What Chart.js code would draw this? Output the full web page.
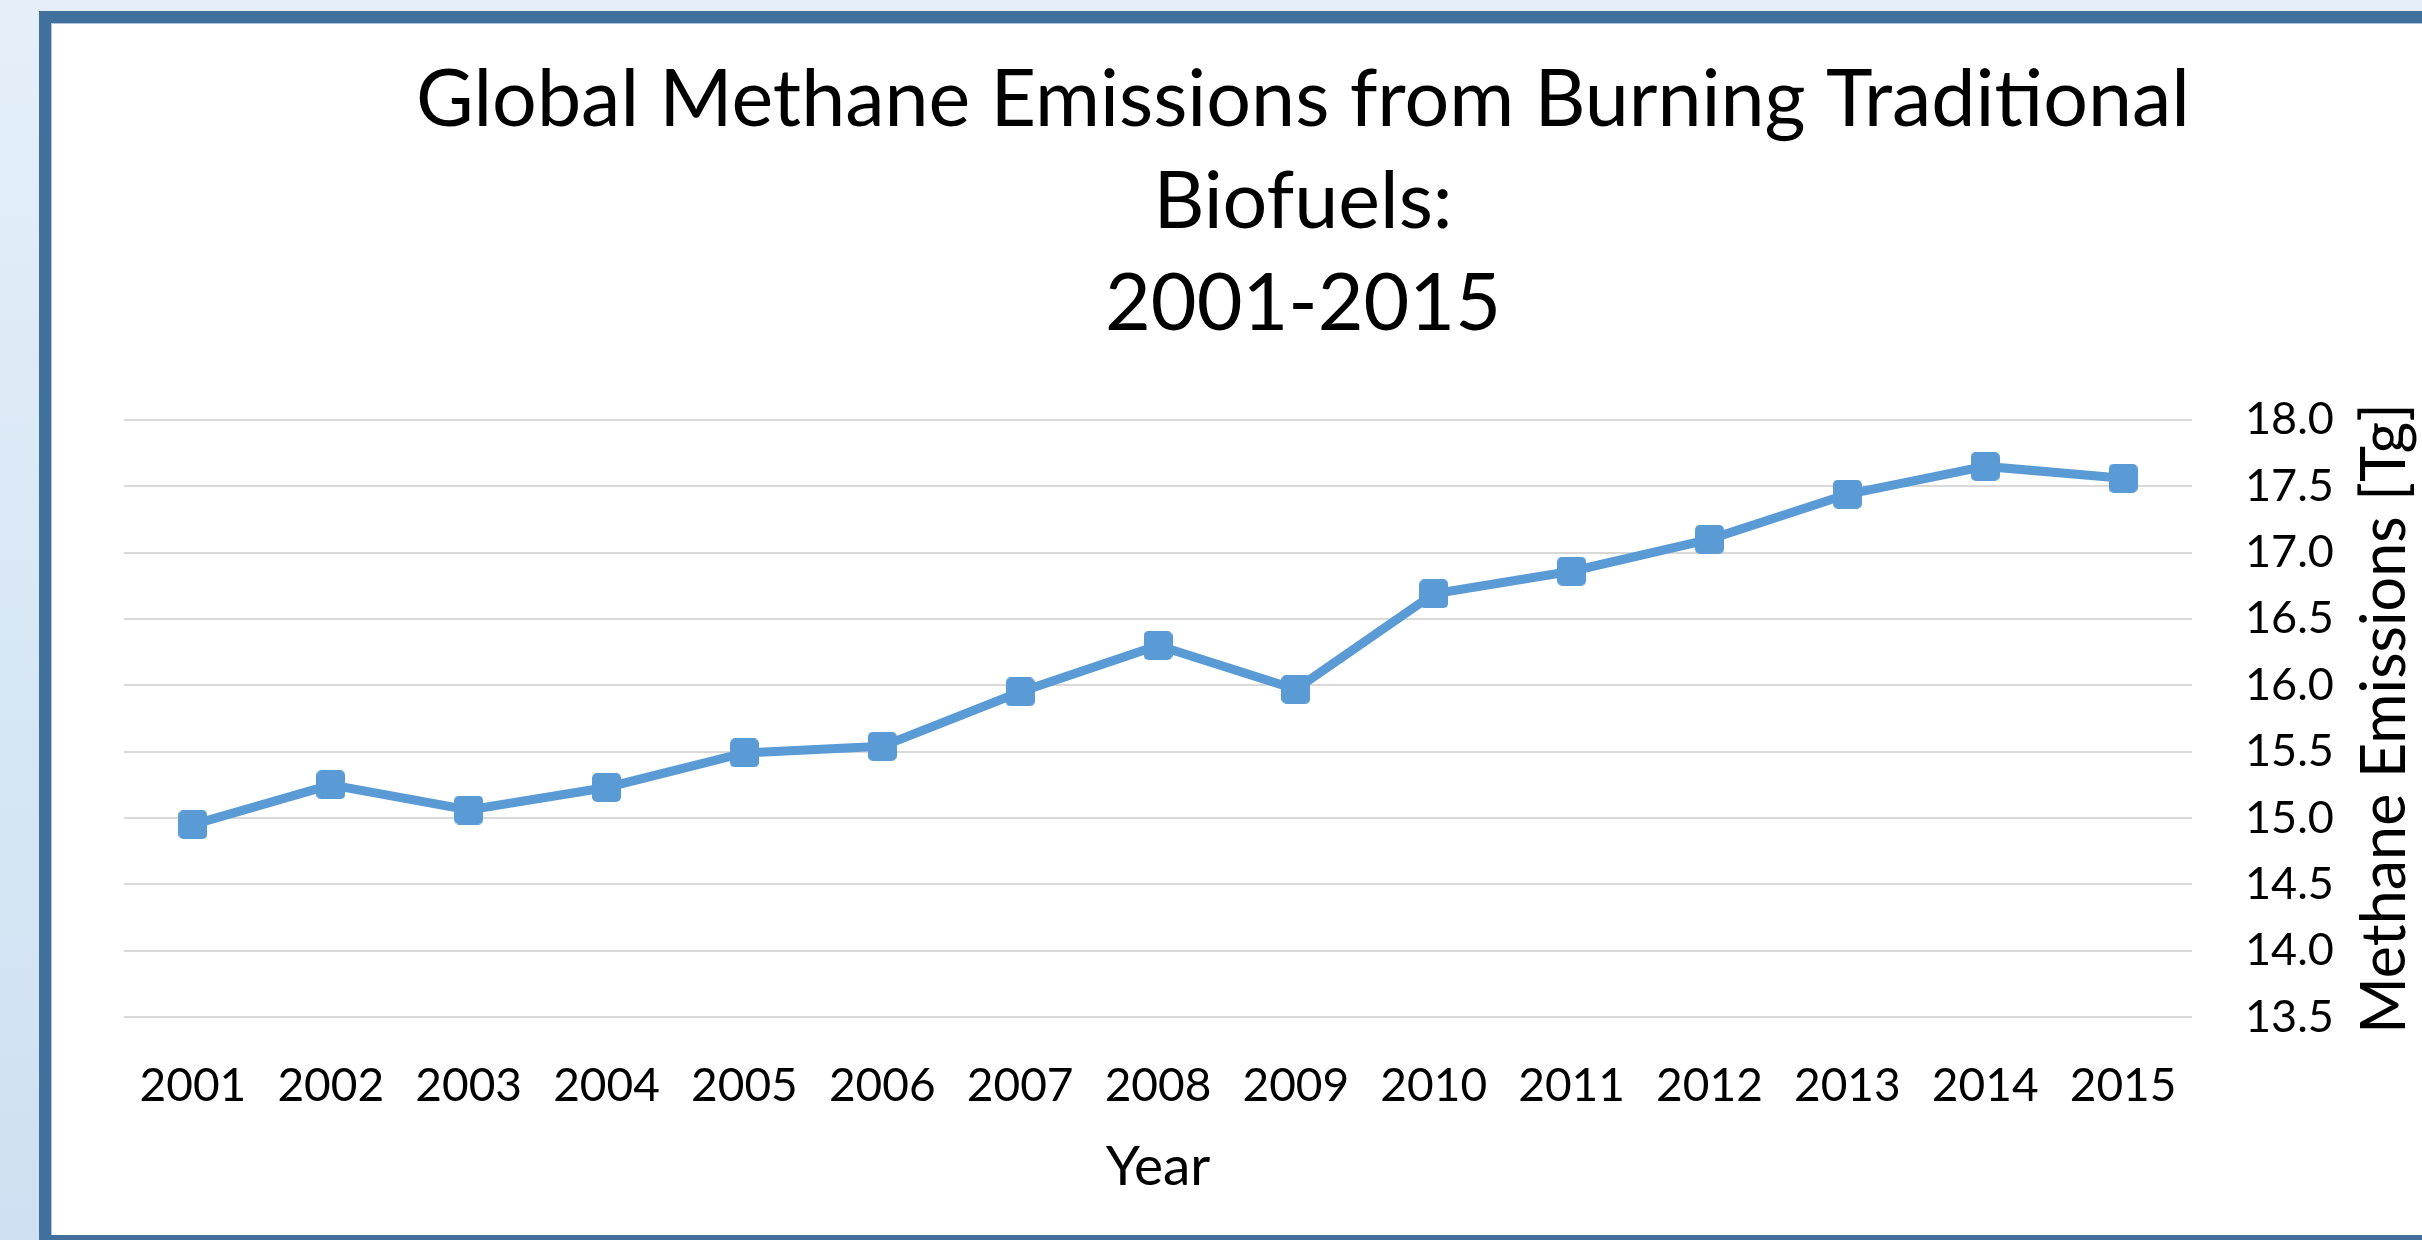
<!DOCTYPE html>
<html>
<head>
<meta charset="utf-8">
<title>Global Methane Emissions from Burning Traditional Biofuels</title>
<script src="https://cdn.jsdelivr.net/npm/chart.js@4.4.1/dist/chart.umd.min.js"></script>
<style>
  html, body {
    margin: 0;
    padding: 0;
    width: 2422px;
    height: 1240px;
    overflow: hidden;
    background: linear-gradient(to bottom, #e4eff9, #cee0f1);
  }
  #frame {
    position: absolute;
    left: 39px;
    top: 11px;
    width: 2600px;
    height: 1212px;
    border: 12px solid #41709c;
    background: #fff;
    box-shadow: inset 1px 1px 0 #a9c4de;
  }
  #chart-box {
    position: absolute;
    left: 0;
    top: 0;
    width: 2504px;
    height: 1212px;
  }
</style>
</head>
<body>
<div id="frame">
  <div id="chart-box"><canvas id="line-chart" width="2504" height="1212"></canvas></div>
</div>
<script>
// -----------DATA----------
const years = ["2001", "2002", "2003", "2004", "2005", "2006", "2007", "2008",
  "2009", "2010", "2011", "2012", "2013", "2014", "2015"];
const methaneTg = [14.95, 15.25, 15.06, 15.23, 15.49, 15.54, 15.95, 16.30,
  15.97, 16.69, 16.86, 17.10, 17.44, 17.65, 17.56];
const yTickValues = [13.5, 14.0, 14.5, 15.0, 15.5, 16.0, 16.5, 17.0, 17.5, 18.0];
const titleLines = ["Global Methane Emissions from Burning Traditional", "Biofuels:", "2001-2015"];
const xAxisTitle = "Year";
const yAxisTitle = "Methane Emissions [Tg]";

const lineColor = "#5b9bd5";

// Rounded square marker (Excel style)
function makeMarker(size, radius, color) {
  const c = document.createElement("canvas");
  c.width = size;
  c.height = size;
  const ctx = c.getContext("2d");
  ctx.fillStyle = color;
  ctx.beginPath();
  ctx.roundRect(0, 0, size, size, radius);
  ctx.fill();
  return c;
}

// Right axis title reads bottom-to-top, so draw it by hand
const rightTitlePlugin = {
  id: "rightTitle",
  afterDraw(chart) {
    const { ctx, chartArea } = chart;
    ctx.save();
    ctx.translate(chartArea.right + 213, (chartArea.top + chartArea.bottom) / 2);
    ctx.rotate(-Math.PI / 2);
    ctx.font = "61px Lato";
    ctx.fillStyle = "#000";
    ctx.textAlign = "center";
    ctx.textBaseline = "alphabetic";
    ctx.fillText(yAxisTitle, 0, 0);
    ctx.restore();
  },
};

function drawChart() {
  const chartId = document.getElementById("line-chart");
  new Chart(chartId, {
    type: "line",
    data: {
      labels: years,
      datasets: [
        {
          label: yAxisTitle,
          data: methaneTg,
          borderColor: lineColor,
          backgroundColor: lineColor,
          borderWidth: 9,
          tension: 0,
          pointStyle: makeMarker(29, 5, lineColor),
          pointRadius: 14,
          clip: false,
        },
      ],
    },
    options: {
      responsive: false,
      animation: false,
      devicePixelRatio: 1,
      layout: {
        padding: { top: 0, left: 73, right: 73, bottom: 35 },
      },
      plugins: {
        legend: { display: false },
        tooltip: { enabled: false },
        title: {
          display: true,
          text: titleLines,
          color: "#000",
          font: { family: "Lato", size: 79, weight: "normal", lineHeight: 1.291 },
          padding: { top: 27, bottom: 64 },
        },
      },
      scales: {
        x: {
          offset: true,
          grid: { display: false, drawTicks: false },
          border: { display: false },
          ticks: {
            color: "#000",
            font: { family: "Lato", size: 46 },
            padding: 42,
            maxRotation: 0,
            autoSkip: false,
          },
          title: {
            display: true,
            text: xAxisTitle,
            color: "#000",
            font: { family: "Lato", size: 55 },
            padding: { top: 20, bottom: 0 },
          },
          // tick padding is counted twice by Chart.js, fix the box height
          afterFit: (scale) => {
            scale.height = 183;
          },
        },
        y: {
          position: "right",
          min: 13.5,
          max: 18,
          afterBuildTicks: (scale) => {
            scale.ticks = yTickValues.map((v) => ({ value: v }));
          },
          afterFit: (scale) => {
            scale.width = 290;
          },
          grid: { color: "#d9d9d9", lineWidth: 2, drawTicks: false },
          border: { display: false },
          ticks: {
            color: "#000",
            font: { family: "Lato", size: 45 },
            padding: 53,
            callback: (v) => Number(v).toFixed(1),
          },
        },
      },
    },
    plugins: [rightTitlePlugin],
  });
}

Promise.all([
  document.fonts.load("79px Lato"),
  document.fonts.load("46px Lato"),
]).then(drawChart, drawChart);
</script>
</body>
</html>
